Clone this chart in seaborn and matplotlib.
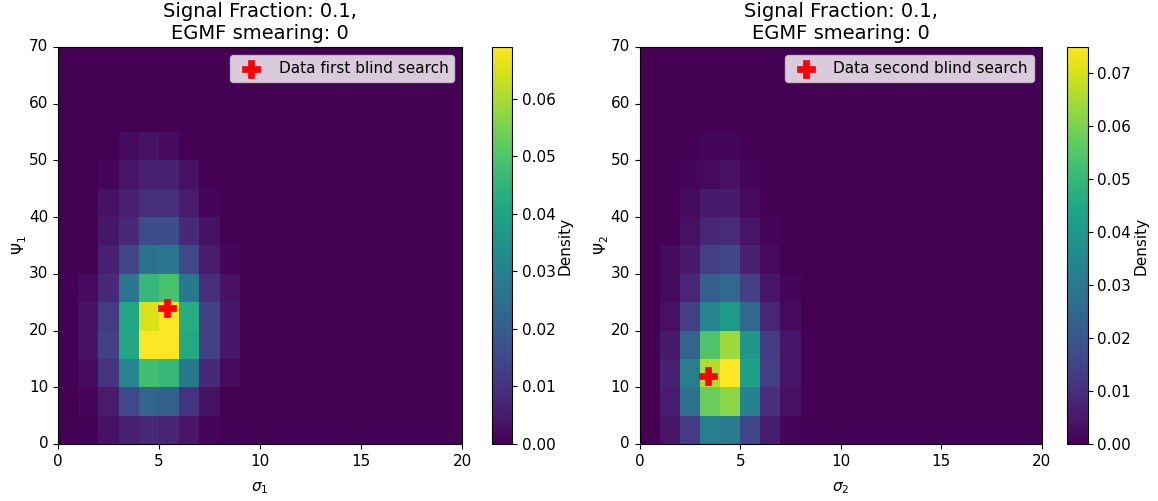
import numpy as np
import pandas as pd
import matplotlib
matplotlib.use('Agg')
import matplotlib.pyplot as plt
import seaborn as sns

# ── Data (density per cell, rows = psi bins of 5 from 0 to 70, cols = sigma bins of 1 from 0 to 20) ──
SIGMA_BINS = np.arange(0, 21, 1)
PSI_BINS = np.arange(0, 71, 5)

density_first = [
    # psi 0-5
    [0, 0, 0.003, 0.006, 0.008, 0.007, 0.004, 0.001, 0, 0, 0, 0, 0, 0, 0, 0, 0, 0, 0, 0],
    # psi 5-10
    [0, 0.001, 0.005, 0.015, 0.022, 0.021, 0.010, 0.003, 0, 0, 0, 0, 0, 0, 0, 0, 0, 0, 0, 0],
    # psi 10-15
    [0, 0.002, 0.010, 0.031, 0.048, 0.046, 0.028, 0.008, 0.002, 0, 0, 0, 0, 0, 0, 0, 0, 0, 0, 0],
    # psi 15-20
    [0, 0.003, 0.013, 0.041, 0.069, 0.069, 0.042, 0.013, 0.004, 0, 0, 0, 0, 0, 0, 0, 0, 0, 0, 0],
    # psi 20-25
    [0, 0.003, 0.012, 0.041, 0.065, 0.069, 0.043, 0.013, 0.004, 0, 0, 0, 0, 0, 0, 0, 0, 0, 0, 0],
    # psi 25-30
    [0, 0.002, 0.008, 0.027, 0.046, 0.049, 0.028, 0.009, 0.003, 0, 0, 0, 0, 0, 0, 0, 0, 0, 0, 0],
    # psi 30-35
    [0, 0, 0.006, 0.014, 0.026, 0.027, 0.015, 0.005, 0.001, 0, 0, 0, 0, 0, 0, 0, 0, 0, 0, 0],
    # psi 35-40
    [0, 0, 0.004, 0.008, 0.016, 0.016, 0.008, 0.003, 0, 0, 0, 0, 0, 0, 0, 0, 0, 0, 0, 0],
    # psi 40-45
    [0, 0, 0.003, 0.006, 0.009, 0.009, 0.005, 0.001, 0, 0, 0, 0, 0, 0, 0, 0, 0, 0, 0, 0],
    # psi 45-50
    [0, 0, 0.001, 0.004, 0.006, 0.006, 0.003, 0, 0, 0, 0, 0, 0, 0, 0, 0, 0, 0, 0, 0],
    # psi 50-55
    [0, 0, 0, 0.002, 0.003, 0.002, 0, 0, 0, 0, 0, 0, 0, 0, 0, 0, 0, 0, 0, 0],
    # psi 55-70
    [0] * 20,
    [0] * 20,
    [0] * 20,
]

density_second = [
    # psi 0-5
    [0, 0.004, 0.013, 0.032, 0.031, 0.016, 0.006, 0.001, 0, 0, 0, 0, 0, 0, 0, 0, 0, 0, 0, 0],
    # psi 5-10
    [0, 0.006, 0.028, 0.058, 0.062, 0.033, 0.010, 0.003, 0, 0, 0, 0, 0, 0, 0, 0, 0, 0, 0, 0],
    # psi 10-15
    [0, 0.007, 0.032, 0.066, 0.075, 0.043, 0.014, 0.004, 0, 0, 0, 0, 0, 0, 0, 0, 0, 0, 0, 0],
    # psi 15-20
    [0, 0.005, 0.024, 0.054, 0.064, 0.039, 0.013, 0.004, 0, 0, 0, 0, 0, 0, 0, 0, 0, 0, 0, 0],
    # psi 20-25
    [0, 0.003, 0.014, 0.034, 0.041, 0.025, 0.008, 0.002, 0, 0, 0, 0, 0, 0, 0, 0, 0, 0, 0, 0],
    # psi 25-30
    [0, 0.002, 0.008, 0.022, 0.025, 0.014, 0.004, 0.001, 0, 0, 0, 0, 0, 0, 0, 0, 0, 0, 0, 0],
    # psi 30-35
    [0, 0.002, 0.005, 0.014, 0.016, 0.007, 0.002, 0, 0, 0, 0, 0, 0, 0, 0, 0, 0, 0, 0, 0],
    # psi 35-40
    [0, 0, 0.003, 0.008, 0.009, 0.004, 0.001, 0, 0, 0, 0, 0, 0, 0, 0, 0, 0, 0, 0, 0],
    # psi 40-45
    [0, 0, 0.002, 0.005, 0.005, 0.002, 0, 0, 0, 0, 0, 0, 0, 0, 0, 0, 0, 0, 0, 0],
    # psi 45-50
    [0, 0, 0.001, 0.002, 0.003, 0.001, 0, 0, 0, 0, 0, 0, 0, 0, 0, 0, 0, 0, 0, 0],
    # psi 50-55
    [0, 0, 0, 0.001, 0.001, 0, 0, 0, 0, 0, 0, 0, 0, 0, 0, 0, 0, 0, 0, 0],
    # psi 55-70
    [0] * 20,
    [0] * 20,
    [0] * 20,
]

# blind search data points (sigma, psi)
data_first = (5.4, 24.0)
data_second = (3.4, 12.0)

titles = ["Signal Fraction: 0.1,\nEGMF smearing: 0"] * 2
legend_labels = ["Data first blind search", "Data second blind search"]
xlabels = [r"$\sigma_1$", r"$\sigma_2$"]
ylabels = [r"$\Psi_1$", r"$\Psi_2$"]
xticks = [0, 5, 10, 15, 20]
yticks = [0, 10, 20, 30, 40, 50, 60, 70]

# ── Figure ──
fig = plt.figure(figsize=(11.58, 5.01), dpi=100)
ax_pos = [[0.0501, 0.1138, 0.3489, 0.7924], [0.5524, 0.1138, 0.3472, 0.7924]]
cb_pos = [[0.4249, 0.1138, 0.0172, 0.7924], [0.9211, 0.1138, 0.0181, 0.7924]]

panels = [(density_first, data_first), (density_second, data_second)]
psi_step = PSI_BINS[1] - PSI_BINS[0]
sig_step = SIGMA_BINS[1] - SIGMA_BINS[0]
FS = 11

for i, (dens, point) in enumerate(panels):
    ax = fig.add_axes(ax_pos[i])
    cax = fig.add_axes(cb_pos[i])
    df = pd.DataFrame(dens, index=PSI_BINS[:-1], columns=SIGMA_BINS[:-1])
    sns.heatmap(df, ax=ax, cbar_ax=cax, cmap="viridis", vmin=0,
                cbar_kws={'label': 'Density'})
    ax.set_ylim(0, len(PSI_BINS) - 1)
    ax.set_xlim(0, len(SIGMA_BINS) - 1)

    # red marker for the data
    sns.scatterplot(x=[point[0] / sig_step], y=[point[1] / psi_step], ax=ax,
                    marker='P', s=170, color='red', edgecolor='red',
                    linewidth=0.5, label=legend_labels[i], zorder=5)
    ax.legend(loc='upper right', fontsize=11, framealpha=0.8)

    ax.set_xticks([t / sig_step for t in xticks])
    ax.set_xticklabels([str(t) for t in xticks], rotation=0, fontsize=FS)
    ax.set_yticks([t / psi_step for t in yticks])
    ax.set_yticklabels([str(t) for t in yticks], rotation=0, fontsize=FS)
    ax.tick_params(axis='both', length=3.5, width=0.8, direction='out')
    ax.set_xlabel(xlabels[i], fontsize=FS, labelpad=8)
    ax.set_ylabel(ylabels[i], fontsize=FS, labelpad=0)
    ax.set_title(titles[i], fontsize=14)
    for sp in ax.spines.values():
        sp.set_visible(True)
        sp.set_linewidth(0.8)

    cbar = ax.collections[0].colorbar
    cbar.outline.set_visible(True)
    cbar.outline.set_linewidth(0.8)
    cbar.ax.tick_params(labelsize=FS, length=3.5, width=0.8)
    cbar.set_label('Density', fontsize=FS, labelpad=1.5)

plt.savefig("out.png", dpi=100)
